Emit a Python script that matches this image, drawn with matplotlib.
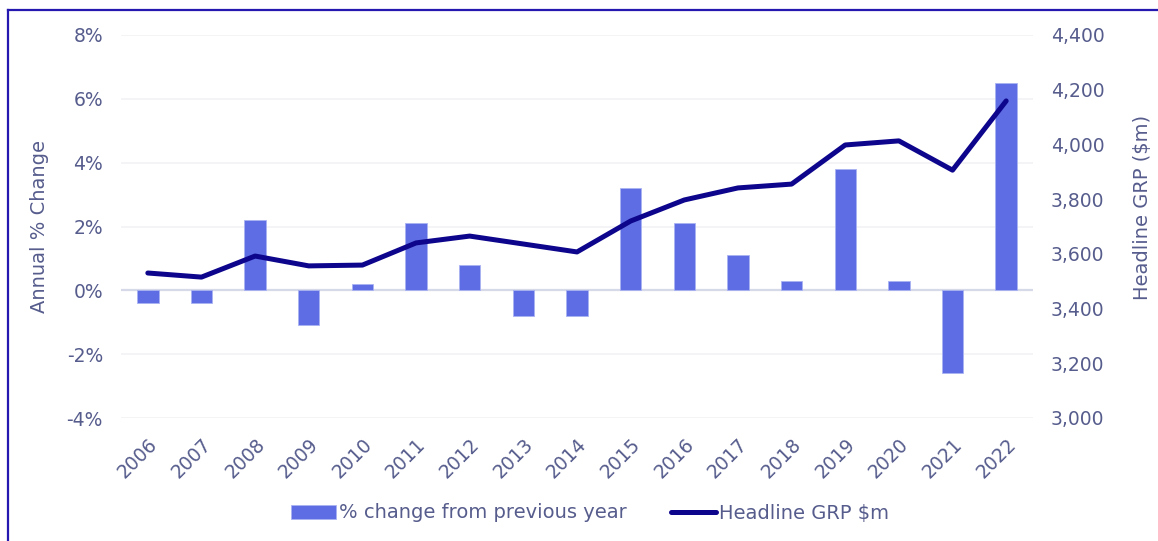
import matplotlib
matplotlib.use("Agg")
import matplotlib.pyplot as plt
from matplotlib.lines import Line2D
from matplotlib.ticker import FuncFormatter

years = [str(y) for y in range(2006, 2023)]
pct_change = [-0.4, -0.4, 2.2, -1.1, 0.2, 2.1, 0.8, -0.8, -0.8,
              3.2, 2.1, 1.1, 0.3, 3.8, 0.3, -2.6, 6.5]
grp = [3530, 3515, 3592, 3556, 3559, 3640, 3665, 3636, 3607,
       3720, 3797, 3841, 3855, 3998, 4013, 3906, 4159]

text_col = "#565c8c"
bar_col = "#5e6de3"
line_col = "#0d058c"

plt.rcParams['font.family'] = ['DejaVu Sans']

fig = plt.figure(figsize=(11.58, 5.41), dpi=100)
ax = fig.add_axes([121 / 1158, 1 - 418 / 541, (1033 - 121) / 1158, 383 / 541])
ax2 = ax.twinx()

x = list(range(len(years)))
ax.bar(x, pct_change, width=0.4, color=bar_col, edgecolor="#aab3f2",
       linewidth=0.6, zorder=2, label="% change from previous year")
ax2.plot(x, grp, color=line_col, linewidth=3.6, solid_capstyle="round",
         solid_joinstyle="round", zorder=3, label="Headline GRP $m")

ax.set_xlim(-0.5, len(years) - 0.5)
ax.set_ylim(-4, 8)
ax.set_yticks(range(-4, 9, 2))
ax.yaxis.set_major_formatter(FuncFormatter(lambda v, p: f"{v:.0f}%"))
ax2.set_ylim(3000, 4400)
ax2.set_yticks(range(3000, 4401, 200))
ax2.yaxis.set_major_formatter(FuncFormatter(lambda v, p: f"{v:,.0f}"))

ax.grid(axis="y", color="#f2f2f5", linewidth=1.2, zorder=0)
ax.axhline(0, color="#d6d9e8", linewidth=1.6, zorder=1)
ax.set_axisbelow(True)

for a in (ax, ax2):
    for s in a.spines.values():
        s.set_visible(False)
    a.tick_params(length=0, colors=text_col, labelsize=13.5)

ax.tick_params(axis="y", pad=13)
ax2.tick_params(axis="y", pad=13)
ax.set_xticks(x)
ax.set_xticklabels(years, rotation=45, ha="right", rotation_mode="anchor")
ax.tick_params(axis="x", pad=12)

ax.set_ylabel("Annual % Change", color=text_col, fontsize=14)
ax.yaxis.set_label_coords((49 - 121) / 912, 0.5)
ax2.set_ylabel("Headline GRP ($m)", color=text_col, fontsize=14)
ax2.yaxis.set_label_coords((1133 - 121) / 912, (418 - 207) / 383)

h1, l1 = ax.get_legend_handles_labels()
h2, l2 = ax2.get_legend_handles_labels()
fig.legend(h1 + h2, l1 + l2, loc="center", bbox_to_anchor=(590 / 1158, 1 - 513 / 541),
           ncol=2, frameon=False, fontsize=14, labelcolor=text_col,
           handlelength=2.3, handletextpad=0.15, columnspacing=2.3)

# frame border on left and top
fig.add_artist(Line2D([8 / 1158, 8 / 1158], [0, 1 - 10 / 541], color="#2418b0",
                      linewidth=1.6, transform=fig.transFigure))
fig.add_artist(Line2D([8 / 1158, 1], [1 - 10 / 541, 1 - 10 / 541], color="#2418b0",
                      linewidth=1.6, transform=fig.transFigure))

fig.savefig("out.png", dpi=100)
